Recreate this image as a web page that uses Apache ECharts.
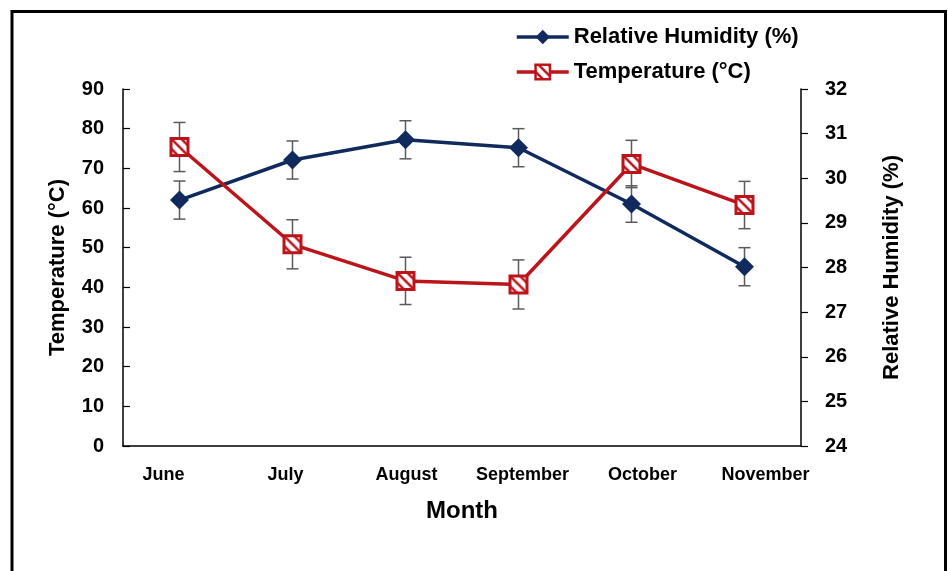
<!DOCTYPE html>
<html>
<head>
<meta charset="utf-8">
<script src="https://cdn.jsdelivr.net/npm/echarts@6/dist/echarts.min.js"></script>
<style>
  html, body { margin: 0; padding: 0; background: #fff; }
  #chart { width: 948px; height: 571px; }
</style>
</head>
<body>
<div id="chart"></div>
<script>
/* ── data ── */
const months = ['June', 'July', 'August', 'September', 'October', 'November']
// blue series, read on the left axis
const humidity = [62, 72.1, 77.2, 75.2, 61, 45.2]
const humidityErr = [4.8, 4.8, 4.8, 4.8, 4.6, 4.8]
// red series, read on the right axis
const temperature = [30.7, 28.52, 27.7, 27.62, 30.32, 29.4]
const temperatureErr = [0.55, 0.55, 0.53, 0.55, 0.53, 0.53]

const FONT = '"Liberation Sans", Arial, sans-serif'
const BLUE = '#112a5e'
const RED = '#bc141b'
const ERR = '#5a5a5a'
const RECT_SIZE = 17

// labels in the original are not quite centred under their category
const labelNudge = [-16, -7, 1, 4, 11, 21]

// white fill with a red diagonal hatch for the temperature marker.
// symbols are drawn on a 2x2 unit shape and scaled, so the pattern gets scaled back
function hatchPattern(scale) {
  const s = 10
  const c = document.createElement('canvas')
  c.width = s
  c.height = s
  const g = c.getContext('2d')
  g.fillStyle = '#fff'
  g.fillRect(0, 0, s, s)
  g.strokeStyle = RED
  g.lineWidth = 2.5
  g.beginPath()
  g.moveTo(0, 0); g.lineTo(s, s)
  g.moveTo(-s / 2, s / 2); g.lineTo(s / 2, s * 1.5)
  g.moveTo(s / 2, -s / 2); g.lineTo(s * 1.5, s / 2)
  g.stroke()
  return { image: c, repeat: 'repeat', scaleX: scale, scaleY: scale }
}

function errorBars(values, errs) {
  return values.map((v, i) => [i, v - errs[i], v + errs[i]])
}

function renderErr(params, api) {
  const i = api.value(0)
  const lo = api.coord([i, api.value(1)])
  const hi = api.coord([i, api.value(2)])
  const w = 6
  const style = { stroke: ERR, lineWidth: 1.5 }
  return {
    type: 'group',
    children: [
      { type: 'line', shape: { x1: lo[0], y1: lo[1], x2: hi[0], y2: hi[1] }, style },
      { type: 'line', shape: { x1: hi[0] - w, y1: hi[1], x2: hi[0] + w, y2: hi[1] }, style },
      { type: 'line', shape: { x1: lo[0] - w, y1: lo[1], x2: lo[0] + w, y2: lo[1] }, style },
    ],
  }
}

const monthRich = {}
labelNudge.forEach((n, i) => {
  monthRich['m' + i] = {
    fontFamily: FONT,
    fontSize: 18,
    fontWeight: 'bold',
    color: '#000',
    padding: n >= 0 ? [0, 0, 0, 2 * n] : [0, -2 * n, 0, 0],
  }
})

const chart = echarts.init(document.getElementById('chart'), null, { renderer: 'canvas' })

chart.setOption({
  backgroundColor: '#fff',
  animation: false,
  textStyle: { fontFamily: FONT },
  graphic: [
    {
      type: 'rect',
      shape: { x: 12, y: 11.5, width: 933.5, height: 600 },
      style: { fill: 'none', stroke: '#000', lineWidth: 3 },
      silent: true,
      z: 100,
    },
  ],
  legend: {
    orient: 'vertical',
    left: 510,
    top: 21,
    itemWidth: 52,
    itemHeight: 18,
    itemGap: 13,
    lineStyle: { width: 3.5 },
    textStyle: { fontSize: 22, fontWeight: 'bold', color: '#000', fontFamily: FONT },
    data: [
      'Relative Humidity (%)',
      { name: 'Temperature (°C)', itemStyle: { color: hatchPattern(1), borderColor: RED, borderWidth: 2.5 } },
    ],
  },
  grid: { left: 123, right: 147, top: 89, bottom: 125 },
  xAxis: {
    type: 'category',
    data: months,
    boundaryGap: true,
    name: 'Month',
    nameLocation: 'middle',
    nameGap: 53,
    nameTextStyle: { fontSize: 24, fontWeight: 'bold', color: '#000', fontFamily: FONT },
    axisLine: { lineStyle: { color: '#000', width: 1.5 } },
    axisTick: { inside: true, length: 7, lineStyle: { color: '#000', width: 1.2 } },
    axisLabel: {
      interval: 0,
      margin: 20,
      formatter: (v, i) => '{m' + i + '|' + v + '}',
      rich: monthRich,
    },
  },
  yAxis: [
    {
      type: 'value',
      min: 0,
      max: 90,
      interval: 10,
      name: 'Temperature (°C)',
      nameLocation: 'middle',
      nameRotate: 90,
      nameGap: 54,
      nameTextStyle: { fontSize: 22, fontWeight: 'bold', color: '#000', fontFamily: FONT },
      axisLine: { show: true, lineStyle: { color: '#000', width: 1.5 } },
      axisTick: { show: true, inside: true, length: 7, lineStyle: { color: '#000', width: 1.2 } },
      axisLabel: { margin: 19, fontSize: 20, fontWeight: 'bold', color: '#000', fontFamily: FONT },
      splitLine: { show: false },
    },
    {
      type: 'value',
      position: 'right',
      min: 24,
      max: 32,
      interval: 1,
      name: 'Relative Humidity (%)',
      nameLocation: 'middle',
      nameRotate: 90,
      nameGap: 80,
      nameTextStyle: { fontSize: 22, fontWeight: 'bold', color: '#000', fontFamily: FONT },
      axisLine: { show: true, lineStyle: { color: '#000', width: 1.5 } },
      axisTick: { show: true, inside: false, length: 7, lineStyle: { color: '#000', width: 1.2 } },
      axisLabel: { margin: 24, fontSize: 20, fontWeight: 'bold', color: '#000', fontFamily: FONT },
      splitLine: { show: false },
    },
  ],
  series: [
    {
      type: 'custom',
      name: 'humidity error',
      yAxisIndex: 0,
      renderItem: renderErr,
      encode: { x: 0, y: [1, 2] },
      data: errorBars(humidity, humidityErr),
      z: 1,
      silent: true,
    },
    {
      type: 'custom',
      name: 'temperature error',
      yAxisIndex: 1,
      renderItem: renderErr,
      encode: { x: 0, y: [1, 2] },
      data: errorBars(temperature, temperatureErr),
      z: 1,
      silent: true,
    },
    {
      type: 'line',
      name: 'Relative Humidity (%)',
      yAxisIndex: 0,
      data: humidity,
      symbol: 'diamond',
      symbolSize: 19,
      lineStyle: { color: BLUE, width: 3.5 },
      itemStyle: { color: BLUE },
      z: 3,
    },
    {
      type: 'line',
      name: 'Temperature (°C)',
      yAxisIndex: 1,
      data: temperature,
      symbol: 'rect',
      symbolSize: RECT_SIZE,
      lineStyle: { color: RED, width: 3.5 },
      itemStyle: { color: hatchPattern(2 / RECT_SIZE), borderColor: RED, borderWidth: 3 },
      z: 4,
    },
  ],
})
</script>
</body>
</html>
